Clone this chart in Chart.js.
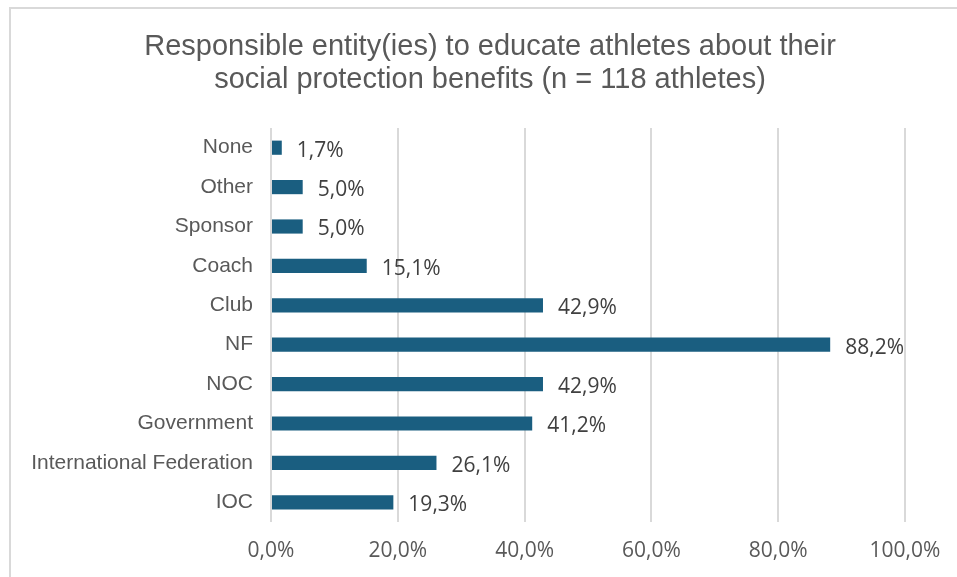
<!DOCTYPE html>
<html>
<head>
<meta charset="utf-8">
<script src="https://cdn.jsdelivr.net/npm/chart.js@4"></script>
<style>
  html, body { margin: 0; padding: 0; background: #fff; }
  #wrap { position: relative; width: 957px; height: 577px; }
</style>
</head>
<body>
<div id="wrap"><canvas id="chart"></canvas></div>
<script>
// categories top to bottom, as they appear in the picture
const categories = ['None', 'Other', 'Sponsor', 'Coach', 'Club', 'NF', 'NOC', 'Government', 'International Federation', 'IOC'];
const shares = [1.7, 5.0, 5.0, 15.1, 42.9, 88.2, 42.9, 41.2, 26.1, 19.3];
const titleLines = ['Responsible entity(ies) to educate athletes about their', 'social protection benefits (n = 118 athletes)'];

const barColor = '#1a5e80';
const textGray = '#595959';
const gridGray = '#d9d9d9';

const fmt = v => v.toFixed(1).replace('.', ',') + '%';

// outer frame (only top and left edges show) plus the title,
// which sits centred on the frame rather than on the canvas
const framePlugin = {
  id: 'frame',
  beforeDraw(chart) {
    const ctx = chart.ctx;
    ctx.save();
    ctx.strokeStyle = gridGray;
    ctx.lineWidth = 2;
    ctx.beginPath();
    ctx.moveTo(10, 600);
    ctx.lineTo(10, 8);
    ctx.lineTo(960, 8);
    ctx.stroke();

    ctx.font = '29px "Liberation Sans", Arial, sans-serif';
    ctx.fillStyle = textGray;
    ctx.textAlign = 'center';
    ctx.textBaseline = 'middle';
    titleLines.forEach((line, i) => ctx.fillText(line, 490, 47 + i * 33));
    ctx.restore();
  }
};

// value labels at the end of every bar
const valueLabels = {
  id: 'valueLabels',
  afterDatasetsDraw(chart) {
    const ctx = chart.ctx;
    const meta = chart.getDatasetMeta(0);
    ctx.save();
    ctx.font = '21px "Open Sans", sans-serif';
    ctx.fillStyle = '#404040';
    ctx.textAlign = 'left';
    ctx.textBaseline = 'middle';
    meta.data.forEach((bar, i) => {
      ctx.fillText(fmt(shares[i]), bar.x + 15, bar.y + 3);
    });
    ctx.restore();
  }
};

new Chart(document.getElementById('chart'), {
  type: 'bar',
  data: {
    labels: categories,
    datasets: [{
      data: shares,
      backgroundColor: barColor,
      borderWidth: 0,
      categoryPercentage: 1,
      barPercentage: 0.36
    }]
  },
  plugins: [framePlugin, valueLabels],
  options: {
    indexAxis: 'y',
    responsive: true,
    maintainAspectRatio: false,
    animation: false,
    layout: { padding: { left: 0, right: 52, top: 128, bottom: 0 } },
    plugins: {
      legend: { display: false },
      tooltip: { enabled: false },
      title: { display: false }
    },
    scales: {
      x: {
        min: 0,
        max: 100,
        ticks: {
          stepSize: 20,
          color: textGray,
          font: { family: '"Open Sans", sans-serif', size: 21 },
          padding: 16,
          callback: v => fmt(v)
        },
        grid: { color: gridGray, lineWidth: 2, drawTicks: false },
        border: { display: false },
        afterFit: s => { s.height = 55; }
      },
      y: {
        ticks: {
          color: textGray,
          font: { family: '"Liberation Sans", Arial, sans-serif', size: 21 },
          padding: 18
        },
        grid: { display: false, drawTicks: false },
        border: { display: false },
        afterFit: s => { s.width = 271; }
      }
    }
  }
});
</script>
</body>
</html>
